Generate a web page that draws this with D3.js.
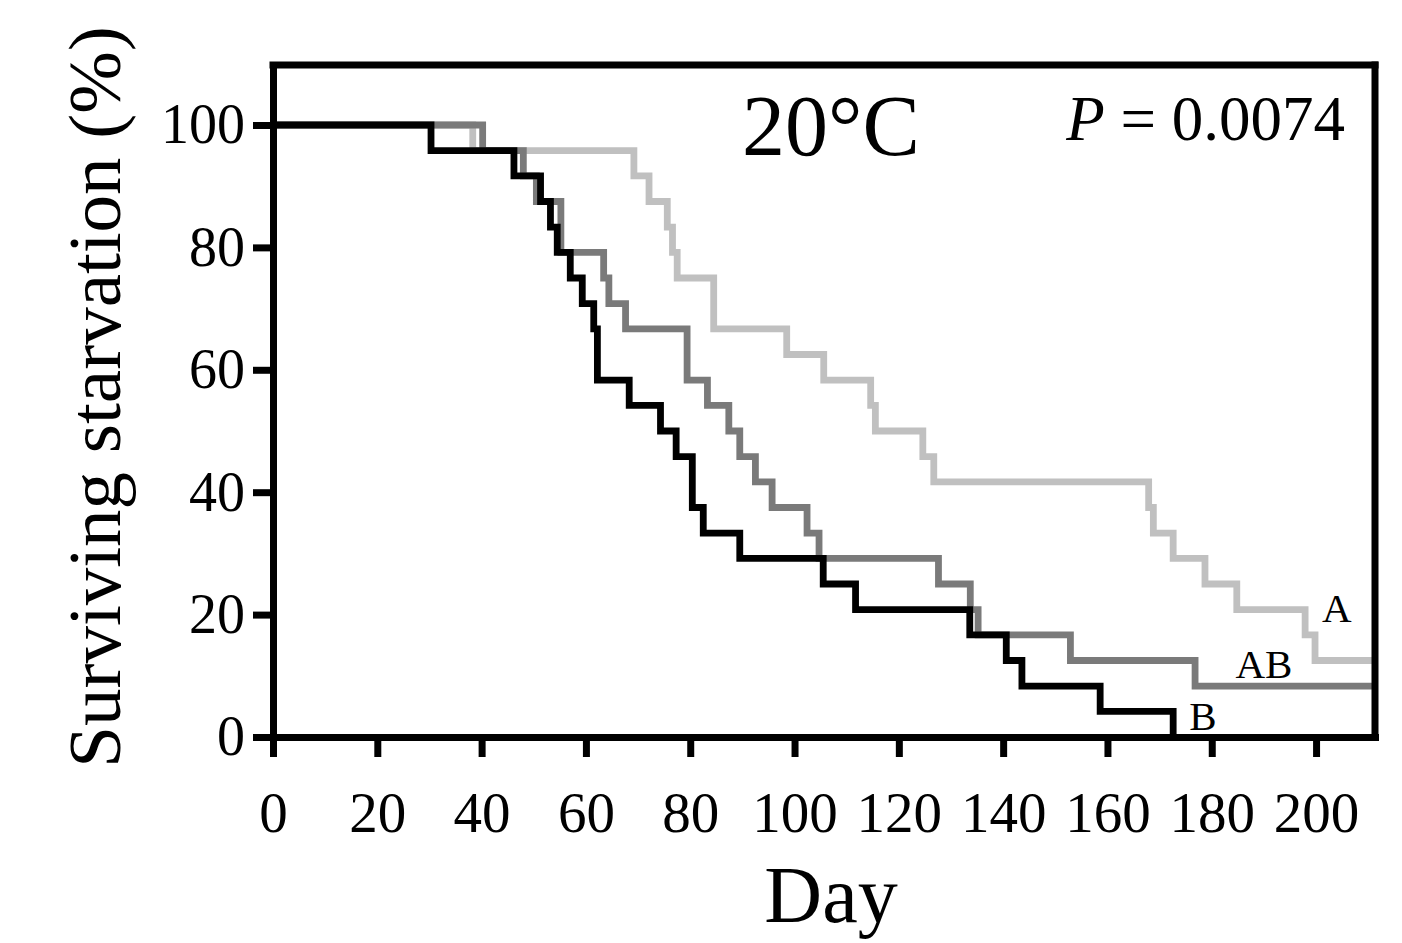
<!DOCTYPE html>
<html>
<head>
<meta charset="utf-8">
<script src="https://cdn.jsdelivr.net/npm/d3@7"></script>
<style>
  html, body { margin: 0; padding: 0; background: #fff; }
  svg { display: block; }
  text { font-family: "Liberation Serif", "Times New Roman", "DejaVu Serif", serif; fill: #000; }
</style>
</head>
<body>
<svg id="chart" width="1402" height="943"></svg>
<script>
// ---- data ----
const xTicks = [0, 20, 40, 60, 80, 100, 120, 140, 160, 180, 200];
const yTicks = [0, 20, 40, 60, 80, 100];
const xMax = 211.3;
const yMax = 109.8;

const daysA = [0, 38.3, 69.2, 72.1, 75.6, 76.6, 77.5, 84.5, 98.5, 105.6, 114.6, 115.5, 124.6, 126.7, 167.9, 168.8, 172.6, 178.7, 184.8, 197.9, 199.8, 211.3];
const survA = [100, 95.8, 91.7, 87.5, 83.3, 79.2, 75, 66.7, 62.5, 58.3, 54.2, 50, 45.8, 41.7, 37.5, 33.3, 29.2, 25, 20.8, 16.7, 12.5, 12.5];

const daysAB = [0, 40.2, 48, 50.5, 55.2, 63.4, 64.4, 67.6, 79.4, 83.3, 87.4, 89.5, 92.5, 95.7, 102.4, 104.7, 127.6, 133.7, 135.2, 152.9, 176.8, 211.3];
const survAB = [100, 95.8, 91.7, 87.5, 79.2, 75, 70.8, 66.7, 58.3, 54.2, 50, 45.8, 41.7, 37.5, 33.3, 29.2, 25, 20.8, 16.7, 12.5, 8.3, 8.3];

const daysB = [0, 30.3, 46.2, 51.3, 53.2, 54.5, 57, 59.3, 61.5, 62.2, 68.3, 74.3, 77.3, 80.4, 82.5, 89.5, 105.5, 111.7, 133.6, 140.6, 143.6, 158.6, 172.6];
const survB = [100, 95.8, 91.7, 87.5, 83.3, 79.2, 75, 70.8, 66.7, 58.3, 54.2, 50, 45.8, 37.5, 33.3, 29.2, 25, 20.8, 16.7, 12.5, 8.3, 4.2, 0];

const groupNames = ["A", "AB", "B"];
const groupColors = ["#c0c0c0", "#7a7a7a", "#000000"];
// label anchor positions in data units (day, percent)
const labelDays = [204, 190, 178.3];
const labelPcts = [18.8, 9.6, 1.1];

const titleText = "20°C";
const pValue = "0.0074";
const xTitle = "Day";
const yTitle = "Surviving starvation (%)";

// ---- drawing ----
const svg = d3.select("#chart");
const x = d3.scaleLinear().domain([0, xMax]).range([273, 1375]);
const y = d3.scaleLinear().domain([0, yMax]).range([737, 65]);

const series = [
  { name: groupNames[0], color: groupColors[0], pts: daysA.map((d, i) => [d, survA[i]]) },
  { name: groupNames[1], color: groupColors[1], pts: daysAB.map((d, i) => [d, survAB[i]]) },
  { name: groupNames[2], color: groupColors[2], pts: daysB.map((d, i) => [d, survB[i]]) }
];

const line = d3.line().x(d => x(d[0])).y(d => y(d[1])).curve(d3.curveStepAfter);

svg.append("g").selectAll("path")
  .data(series)
  .join("path")
  .attr("d", d => line(d.pts))
  .attr("fill", "none")
  .attr("stroke", d => d.color)
  .attr("stroke-width", 6.8)
  .attr("stroke-linejoin", "miter")
  .attr("stroke-linecap", "butt");

// frame top & right
svg.append("line")
  .attr("x1", x(0) - 3.5).attr("x2", x(xMax) + 3.5)
  .attr("y1", y(yMax)).attr("y2", y(yMax))
  .attr("stroke", "#000").attr("stroke-width", 7);
svg.append("line")
  .attr("x1", x(xMax)).attr("x2", x(xMax))
  .attr("y1", y(yMax) - 3.5).attr("y2", y(0) + 3.5)
  .attr("stroke", "#000").attr("stroke-width", 7);

// axes
const yAxis = d3.axisLeft(y).tickValues(yTicks).tickSize(20).tickSizeOuter(0).tickPadding(8);
const gy = svg.append("g").attr("transform", `translate(${x(0)},0)`).call(yAxis);
gy.select(".domain").attr("stroke-width", 7).attr("stroke-linecap", "square");
gy.selectAll(".tick line").attr("stroke-width", 7);
gy.selectAll(".tick text").attr("font-size", 56).attr("font-family", null);

const xAxis = d3.axisBottom(x).tickValues(xTicks).tickSize(20).tickSizeOuter(0);
const gx = svg.append("g").attr("transform", `translate(0,${y(0)})`).call(xAxis);
gx.select(".domain").attr("stroke-width", 7).attr("stroke-linecap", "square");
gx.selectAll(".tick line").attr("stroke-width", 7);
gx.selectAll(".tick text").attr("font-size", 57).attr("font-family", null)
  .attr("y", 95).attr("dy", 0);

// group labels
svg.append("g").selectAll("text")
  .data(series)
  .join("text")
  .attr("x", (d, i) => x(labelDays[i]))
  .attr("y", (d, i) => y(labelPcts[i]))
  .attr("text-anchor", "middle")
  .attr("font-size", 41)
  .text(d => d.name);

// title inside plot
svg.append("text")
  .attr("x", 831).attr("y", 155)
  .attr("text-anchor", "middle")
  .attr("font-size", 86)
  .text(titleText);

const pt = svg.append("text")
  .attr("x", 1345).attr("y", 140)
  .attr("text-anchor", "end")
  .attr("font-size", 63);
pt.append("tspan").attr("font-style", "italic").text("P");
pt.append("tspan").text(" = " + pValue);

// axis titles
svg.append("text")
  .attr("x", 831).attr("y", 922)
  .attr("text-anchor", "middle")
  .attr("font-size", 80)
  .text(xTitle);

svg.append("text")
  .attr("transform", "translate(120,397) rotate(-90)")
  .attr("text-anchor", "middle")
  .attr("font-size", 75)
  .text(yTitle);
</script>
</body>
</html>
